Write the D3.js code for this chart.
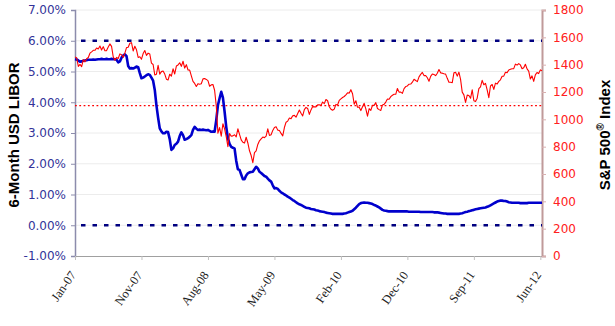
<!DOCTYPE html>
<html><head><meta charset="utf-8">
<script src="https://cdn.jsdelivr.net/npm/d3@7"></script>
<style>body{margin:0;background:#fff}svg{display:block}</style>
</head><body><svg id="c" width="615" height="326"></svg>
<script>
// Weekly samples (mid-Feb 2007 .. early Jul 2012)
const liborValues = [
5.40,5.39,5.36,5.32,5.33,5.35,5.36,5.37,5.38,5.38,
5.38,5.39,5.38,5.39,5.40,5.40,5.41,5.40,5.40,5.41,
5.40,5.40,5.41,5.40,5.40,5.38,5.30,5.33,5.45,5.52,
5.56,5.50,5.18,5.10,5.11,5.10,5.12,5.16,5.14,4.95,
4.78,4.80,4.84,4.88,4.91,4.89,4.80,4.70,4.40,3.90,
3.50,3.15,3.05,2.99,2.99,3.04,3.03,2.80,2.45,2.50,
2.61,2.65,2.72,2.90,3.02,2.93,2.78,2.80,2.83,2.88,
2.93,3.10,3.20,3.14,3.10,3.11,3.10,3.11,3.10,3.09,
3.10,3.07,3.04,3.05,3.04,3.42,3.90,4.13,4.34,4.15,
3.70,3.20,2.83,2.65,2.55,2.52,2.50,2.10,1.82,1.80,
1.65,1.50,1.50,1.62,1.69,1.72,1.73,1.74,1.82,1.90,
1.85,1.74,1.70,1.65,1.60,1.58,1.52,1.46,1.42,1.30,
1.20,1.21,1.18,1.12,1.07,1.04,1.00,0.97,0.93,0.90,
0.86,0.82,0.79,0.75,0.71,0.68,0.66,0.63,0.60,0.57,
0.56,0.55,0.53,0.52,0.51,0.49,0.48,0.46,0.45,0.44,
0.43,0.41,0.40,0.39,0.38,0.37,0.37,0.37,0.37,0.37,
0.37,0.37,0.38,0.39,0.41,0.43,0.45,0.47,0.52,0.57,
0.63,0.69,0.72,0.73,0.74,0.73,0.73,0.72,0.71,0.69,
0.66,0.64,0.61,0.58,0.54,0.50,0.48,0.47,0.46,0.45,
0.45,0.45,0.45,0.45,0.45,0.45,0.45,0.45,0.45,0.45,
0.45,0.44,0.44,0.44,0.44,0.44,0.44,0.44,0.43,0.43,
0.43,0.43,0.43,0.43,0.43,0.43,0.42,0.42,0.42,0.41,
0.40,0.39,0.38,0.38,0.37,0.37,0.37,0.37,0.37,0.37,
0.37,0.37,0.38,0.39,0.41,0.43,0.44,0.46,0.47,0.49,
0.50,0.52,0.53,0.54,0.55,0.56,0.57,0.58,0.60,0.62,
0.65,0.68,0.71,0.74,0.77,0.79,0.80,0.80,0.79,0.79,
0.77,0.75,0.74,0.73,0.73,0.73,0.73,0.73,0.72,0.72,
0.72,0.72,0.72,0.73,0.73,0.73,0.73,0.73,0.73,0.73,
0.73,0.73
];
const spxValues = [
1456,1451,1387,1402,1386,1437,1421,1443,1452,1484,
1494,1505,1505,1522,1515,1536,1507,1532,1502,1503,
1530,1552,1534,1458,1433,1453,1445,1479,1473,1453,
1484,1525,1527,1557,1561,1500,1535,1509,1453,1458,
1440,1481,1504,1468,1484,1478,
1411,1401,1325,1330,1395,1331,1349,1353,1331,1294,
1288,1330,1316,1370,1332,1390,1398,1414,1388,1425,
1375,1400,1361,1360,1318,1278,1263,1240,1261,1257,
1260,1296,1298,1292,1283,1242,1252,1255,1213,1099,
899,940,877,968,931,873,800,896,876,879,
887,872,
931,890,850,832,826,869,827,770,735,683,
756,769,816,843,857,870,866,877,930,882,
887,919,940,946,921,918,897,879,940,979,
987,1010,1005,1026,1029,1016,1042,1068,1044,1025,
1071,1087,1080,1036,1069,1093,1091,1091,1106,1106,
1102,1126,
1115,1145,1136,1092,1074,1066,1075,1109,1105,1139,
1150,1160,1167,1179,1194,1192,1217,1187,1111,1136,
1088,1089,1064,1092,1117,1076,1023,1078,1065,1103,
1102,1122,1079,1071,1065,1105,1110,1126,1149,1147,
1166,1176,1183,1183,1226,1199,1199,1190,1225,1240,
1244,1257,1258,
1272,1293,1284,1276,1311,1329,1343,1320,1321,1304,
1279,1314,1332,1328,1320,1337,1364,1340,1338,1333,
1331,1300,1271,1271,1268,1340,1344,1316,1345,1292,
1199,1179,1124,1177,1174,1154,1216,1136,1131,1155,
1224,1238,1285,1253,1263,1216,1159,1244,1255,1219,
1265,1258,
1278,1289,1315,1316,1345,1342,1361,1366,1370,1371,
1404,1397,1408,1398,1370,1378,1403,1369,1353,1295,
1318,1278,1325,1343,1335,1362,1355
];
const tickLabels = ["Jan-07","Nov-07","Aug-08","May-09","Feb-10","Dec-10","Sep-11","Jun-12"];
const tickIndices = [0,40,80,120,160,200,240,280];
const leftTicks = [-1,0,1,2,3,4,5,6,7];
const rightTicks = [0,200,400,600,800,1000,1200,1400,1600,1800];
const liborRefLevels = [6,0];
const spxRefLevels = [1100];

const svg = d3.select("#c");
const L = 75, R = 542, T = 10, B = 256;
const x = d3.scaleLinear().domain([0, spxValues.length-1]).range([L,R]);
const yL = d3.scaleLinear().domain([-1,7]).range([B,T]);
const yR = d3.scaleLinear().domain([0,1800]).range([B,T]);

// gridlines
svg.append("g").selectAll("line").data(leftTicks.filter(d=>d>-1)).join("line")
  .attr("x1",L).attr("x2",R).attr("y1",d=>yL(d)).attr("y2",d=>yL(d))
  .attr("stroke","#ececec").attr("stroke-width",1);

// left axis
const ga = svg.append("g").attr("transform",`translate(${L},0)`)
  .call(d3.axisLeft(yL).tickValues(leftTicks).tickFormat(d=>d.toFixed(2)+"%").tickSize(4).tickPadding(5));
ga.select(".domain").attr("stroke","#8c8cac").attr("stroke-width",1.5);
ga.selectAll(".tick line").attr("stroke","#8c8cac");
ga.selectAll("text").attr("fill","#333399").style("font-family","DejaVu Sans").style("font-size","12px");

// bottom axis
const gb = svg.append("g").attr("transform",`translate(0,${B})`)
  .call(d3.axisBottom(x).tickValues(tickIndices).tickFormat((d,i)=>tickLabels[i]).tickSize(4).tickSizeOuter(0));
gb.select(".domain").attr("stroke","#a0a0a0").attr("stroke-width",1.2);
gb.selectAll(".tick line").attr("stroke","#c0c0c0");
gb.selectAll("text")
  .attr("text-anchor","end").attr("dy",null).attr("y",null)
  .attr("transform","translate(1,19) rotate(-55)")
  .attr("fill","#222").style("font-family","Liberation Serif").style("font-size","12.5px");

// right axis
const gr = svg.append("g").attr("transform",`translate(${R},0)`)
  .call(d3.axisRight(yR).tickValues(rightTicks).tickFormat(d3.format("d")).tickSize(4).tickPadding(7));
gr.select(".domain").attr("stroke","#c09a9a").attr("stroke-width",2);
gr.selectAll(".tick line").attr("stroke","#d8b0b0");
gr.selectAll("text").attr("fill","#ff2020").style("font-family","DejaVu Sans").style("font-size","12px");

// reference lines
svg.append("g").selectAll("line").data(liborRefLevels).join("line")
  .attr("x1",L).attr("x2",R).attr("y1",d=>yL(d)).attr("y2",d=>yL(d))
  .attr("stroke","#000080").attr("stroke-width",2.3)
  .attr("stroke-dasharray","4.5 7").attr("stroke-dashoffset",5.5);
svg.append("g").selectAll("line").data(spxRefLevels).join("line")
  .attr("x1",L).attr("x2",R).attr("y1",d=>yR(d)).attr("y2",d=>yR(d))
  .attr("stroke","#ff0000").attr("stroke-width",1.3)
  .attr("stroke-dasharray","1.8 2.5");

// series
svg.append("path").datum(liborValues)
  .attr("d", d3.line().x((d,i)=>x(i)).y(d=>yL(d)))
  .attr("fill","none").attr("stroke","#0000cc").attr("stroke-width",2.6)
  .attr("stroke-linejoin","round");
svg.append("path").datum(spxValues)
  .attr("d", d3.line().x((d,i)=>x(i)).y(d=>yR(d)))
  .attr("fill","none").attr("stroke","#ff0000").attr("stroke-width",1.1)
  .attr("stroke-linejoin","round");

// titles
svg.append("text").attr("transform","translate(19,135) rotate(-90)")
  .attr("text-anchor","middle").style("font-family","Liberation Sans").style("font-weight","bold")
  .style("font-size","15px").attr("fill","#000").text("6-Month USD LIBOR");
const rt = svg.append("text").attr("transform","translate(610,135) rotate(-90)")
  .attr("text-anchor","middle").style("font-family","Liberation Sans").style("font-weight","bold")
  .style("font-size","15px").attr("fill","#000");
rt.append("tspan").text("S&P 500");
rt.append("tspan").attr("dy",-6).style("font-size","10px").text("®");
rt.append("tspan").attr("dy",6).text(" Index");
</script></body></html>
